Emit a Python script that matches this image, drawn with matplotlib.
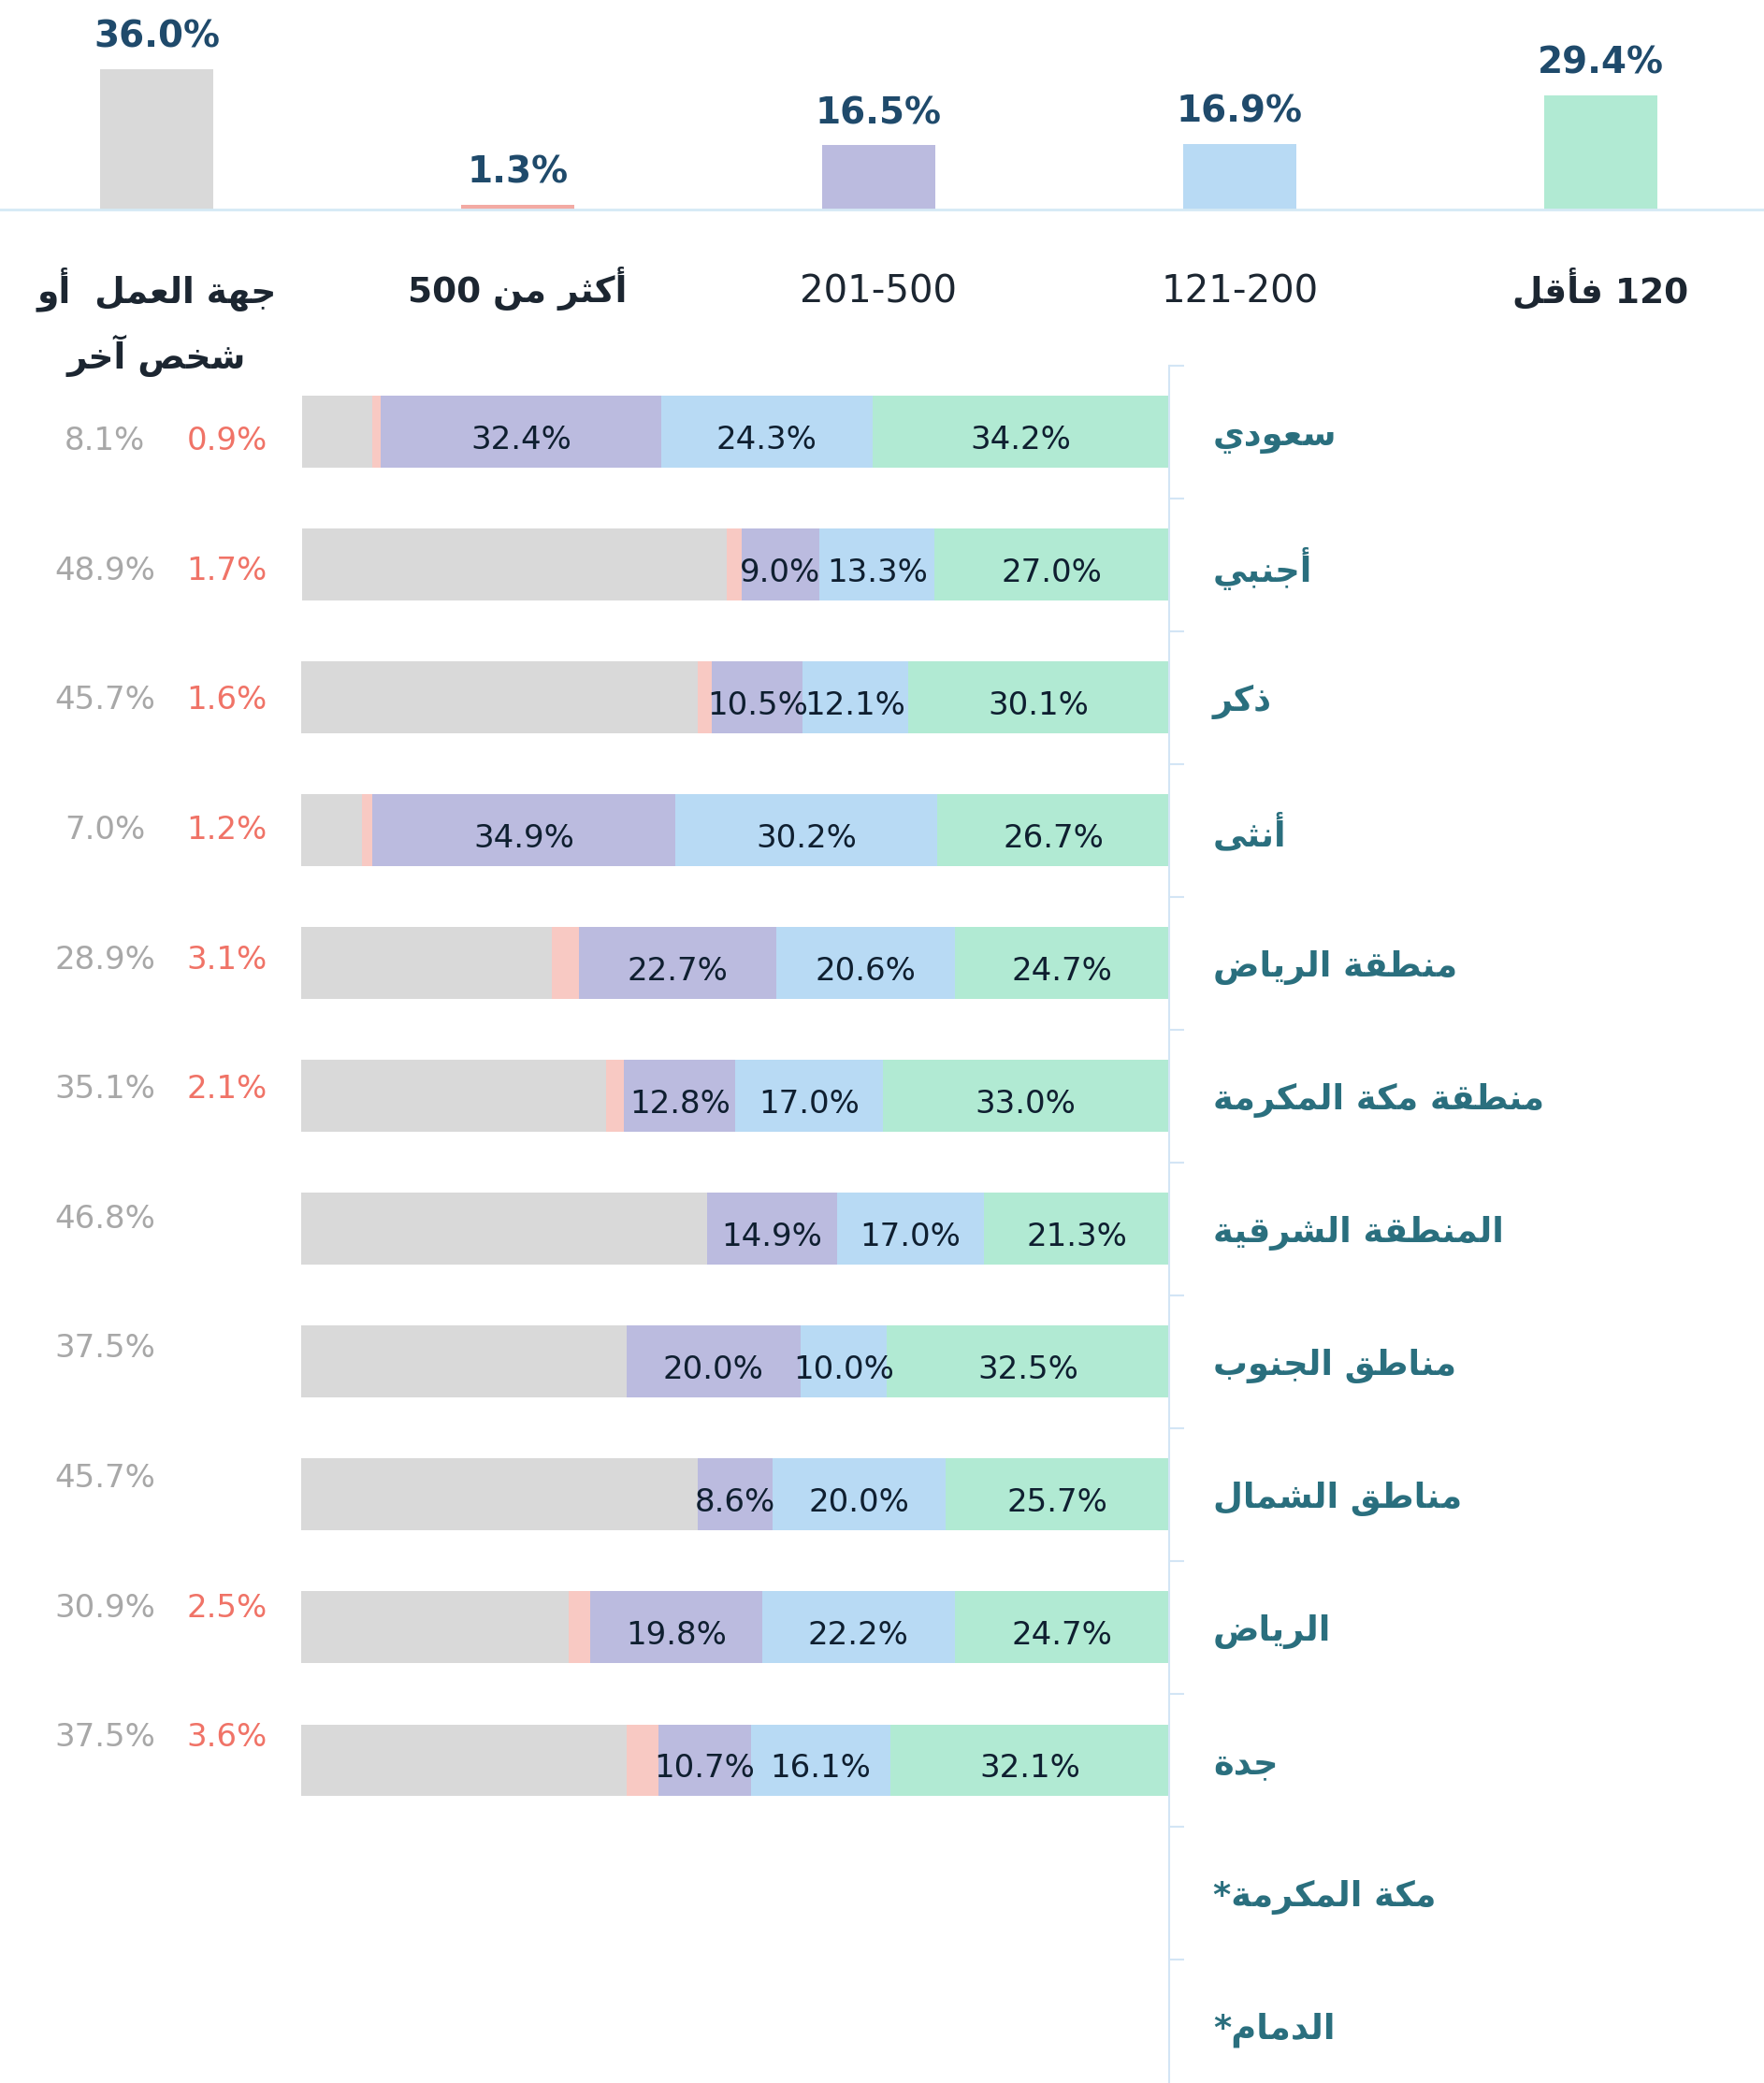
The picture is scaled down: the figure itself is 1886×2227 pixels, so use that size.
import re
import numpy as np
import matplotlib
matplotlib.use('Agg')
import matplotlib.pyplot as plt
import matplotlib.transforms as mtransforms

plt.rcParams['font.family'] = ['DejaVu Sans']

# ---- data ----
top_labels = ['جهة العمل  أو\nشخص آخر', 'أكثر من 500', '201-500', '121-200', '120 فأقل']
top_values = [36.0, 1.3, 16.5, 16.9, 29.4]

rows = ['سعودي', 'أجنبي', 'ذكر', 'أنثى', 'منطقة الرياض', 'منطقة مكة المكرمة',
        'المنطقة الشرقية', 'مناطق الجنوب', 'مناطق الشمال', 'الرياض', 'جدة',
        'مكة المكرمة*', 'الدمام*']
upto_120 = [34.2, 27.0, 30.1, 26.7, 24.7, 33.0, 21.3, 32.5, 25.7, 24.7, 32.1]
r121_200 = [24.3, 13.3, 12.1, 30.2, 20.6, 17.0, 17.0, 10.0, 20.0, 22.2, 16.1]
r201_500 = [32.4, 9.0, 10.5, 34.9, 22.7, 12.8, 14.9, 20.0, 8.6, 19.8, 10.7]
over_500 = [0.9, 1.7, 1.6, 1.2, 3.1, 2.1, 0.0, 0.0, 0.0, 2.5, 3.6]
employer = [8.1, 48.9, 45.7, 7.0, 28.9, 35.1, 46.8, 37.5, 45.7, 30.9, 37.5]

top_colors = ['#d9d9d9', '#f3aaa3', '#bbbbdf', '#b8daf4', '#b1ead3']
seg_colors = ['#b1ead3', '#b8daf4', '#bbbbdf', '#f8c9c3', '#d9d9d9']


# ---- minimal arabic shaping (matplotlib has no RTL / joining support) ----
FORMS = {}
code = 0xFE80
for ch in 'ءآأؤإئابةتثجحخدذرزسشصضطظعغفقكلمنهوىي':
    n = 1 if ch == 'ء' else (2 if ch in 'آأؤإادذرزوةى' else 4)
    FORMS[ch] = [chr(code + k) for k in range(n)]
    code += n


def shape(s):
    if not any(c in FORMS for c in s):
        return s
    out = []
    for i, c in enumerate(s):
        if c not in FORMS:
            out.append(c)
            continue
        prev = s[i - 1] if i > 0 else ''
        nxt = s[i + 1] if i + 1 < len(s) else ''
        jp = prev in FORMS and len(FORMS[prev]) == 4 and c != 'ء'
        jn = len(FORMS[c]) == 4 and nxt in FORMS and nxt != 'ء'
        f = FORMS[c]
        if jp and jn:
            out.append(f[3])
        elif jp:
            out.append(f[1])
        elif jn:
            out.append(f[2])
        else:
            out.append(f[0])
    vis = ''.join(out)[::-1]
    return re.sub(r'[0-9]+', lambda m: m.group(0)[::-1], vis)


fig = plt.figure(figsize=(18.86, 22.27), dpi=100)

# ---- overall column chart on top ----
ax_top = fig.add_axes([0, 1 - 158 / 1568, 1, 158 / 1568])
xt = np.arange(len(top_values))
ax_top.bar(xt, top_values, width=0.313, color=top_colors)
ax_top.set_xlim(-0.434, 4.453)
ax_top.set_ylim(0, 53.7)
for s in ['top', 'left', 'right']:
    ax_top.spines[s].set_visible(False)
ax_top.spines['bottom'].set_color('#d5e9f5')
ax_top.spines['bottom'].set_linewidth(2)
ax_top.set_xticks([])
ax_top.set_yticks([])
for i, v in enumerate(top_values):
    ax_top.annotate(f'{v:.1f}%', xy=(i, v), xytext=(0, 34), textcoords='offset pixels',
                    ha='center', va='center', fontsize=28, fontweight='bold', color='#1f4a6b')
    arabic = any(c in FORMS for c in top_labels[i])
    for j, line in enumerate(top_labels[i].split('\n')):
        ax_top.annotate(shape(line), xy=(i, 0), xytext=(0, -99 - 71 * j),
                        textcoords='offset pixels', ha='center', va='baseline',
                        fontsize=27 if arabic else 29,
                        fontweight='bold' if arabic else 'normal',
                        color='#1c2631', annotation_clip=False)

# ---- stacked bars ----
ax = fig.add_axes([227 / 1328, 0, 653 / 1328, 1 - 275 / 1568])
y = np.arange(len(upto_120))
series = [upto_120, r121_200, r201_500, over_500, employer]
left = np.zeros(len(y))
for k, vals in enumerate(series):
    vals = np.array(vals)
    ax.barh(y, vals, left=left, height=0.54, color=seg_colors[k])
    if k < 3:
        for i, v in enumerate(vals):
            ax.text(left[i] + v / 2, i + 0.06, f'{v:.1f}%', ha='center', va='center',
                    fontsize=24.5, color='#0f1f30')
    left += vals

ax.set_xlim(100, 0)
ax.set_ylim(12.43, -0.5)
ax.xaxis.set_visible(False)
for s in ['top', 'left', 'bottom']:
    ax.spines[s].set_visible(False)
ax.spines['right'].set_color('#d3e5f5')
ax.spines['right'].set_linewidth(1.5)
ax.yaxis.tick_right()
ax.set_yticks(np.arange(len(rows)))
ax.set_yticklabels([shape(r) for r in rows], fontweight='bold')
ax.set_yticks(np.arange(-0.5, len(rows) - 0.5, 1), minor=True)
ax.tick_params(axis='y', which='major', length=0, pad=34, labelsize=26.5, labelcolor='#2a6f7e')
ax.tick_params(axis='y', which='minor', length=11.5, width=1.5, color='#d3e5f5')

# left-hand value columns
tr = mtransforms.blended_transform_factory(fig.transFigure, ax.transData)
for i in range(len(employer)):
    ly = 0.07 + 0.976 * i
    ax.text(79 / 1328, ly, f'{employer[i]:.1f}%', transform=tr, ha='center', va='center',
            fontsize=24.5, color='#a8a8a8')
    if over_500[i] > 0:
        ax.text(171 / 1328, ly, f'{over_500[i]:.1f}%', transform=tr, ha='center', va='center',
                fontsize=24.5, color='#f07367')

fig.savefig('out.png', dpi=100)
